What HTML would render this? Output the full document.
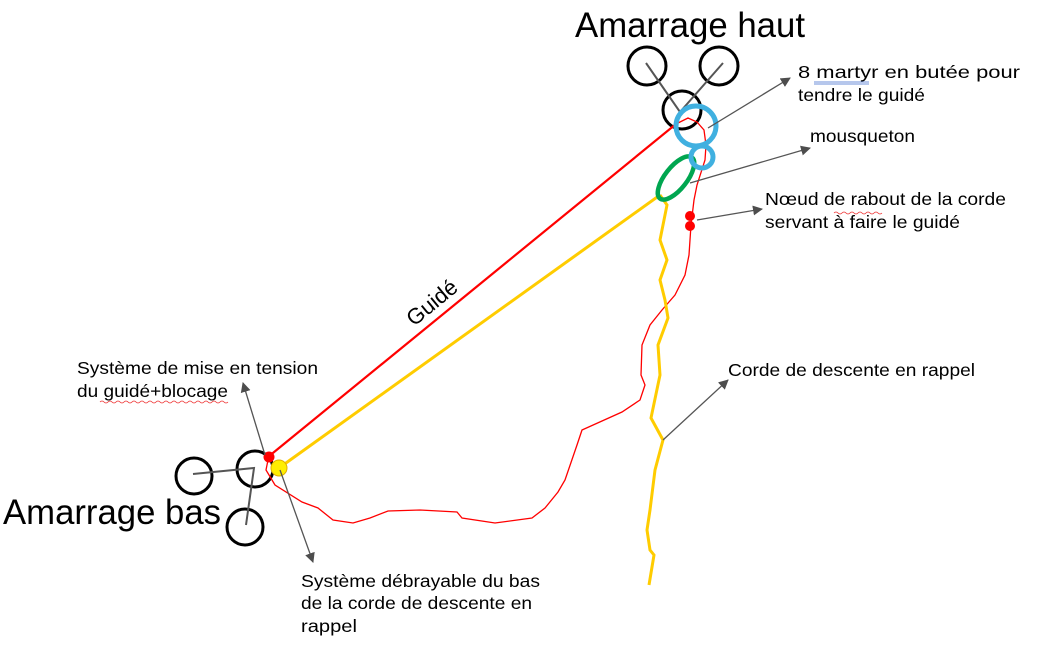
<!DOCTYPE html>
<html><head><meta charset="utf-8"><style>html,body{margin:0;padding:0;background:#fff;}svg{display:block}</style></head>
<body>
<svg width="1047" height="646" viewBox="0 0 1047 646" xmlns="http://www.w3.org/2000/svg" font-family="Liberation Sans, sans-serif">
<defs>
<marker id="a" viewBox="0 0 10 10" refX="9" refY="5" markerWidth="10" markerHeight="10" markerUnits="userSpaceOnUse" orient="auto"><path d="M0,0 L10,5 L0,10 z" fill="#4d4d4d"/></marker>
</defs>
<g fill="none" stroke="#000" stroke-width="3">
<circle cx="647" cy="66" r="19"/><circle cx="719" cy="66" r="19"/><circle cx="682" cy="110" r="19"/>
<circle cx="194" cy="476" r="18"/><circle cx="255" cy="469" r="18"/><circle cx="245" cy="527" r="18"/>
</g>
<g stroke="#555" stroke-width="2" fill="none">
<polyline points="646,63 680,112 723,63"/>
<polyline points="193,474 254,468 246,525"/>
</g>
<path d="M676,124 L688,118 L697,122 L704,130 L706,145 L705,160 L697,185 L694,200 L691,225 L689,255 L685,275 L675,295 L662,310 L650,325 L642,345 L641,375 L645,385 L640,400 L622,412 L582,430 L577,445 L565,480 L558,492 L545,508 L532,518 L495,523 L462,518 L457,512 L420,510 L388,511 L370,518 L353,523 L333,520 L318,508 L302,502 L275,485 L266,470 L268,460" fill="none" stroke="#f00" stroke-width="1.3"/>
<line x1="268" y1="457" x2="676" y2="124" stroke="#f00" stroke-width="2.2"/>
<line x1="279" y1="468" x2="660" y2="195" stroke="#ffcc00" stroke-width="3"/>
<path d="M660,195 L667,205 L664,220 L660,240 L667,260 L660,280 L665,300 L668,318 L658,345 L660,375 L651,418 L663,440 L655,470 L650,510 L647,530 L650,550 L654,555 L649,585" fill="none" stroke="#ffcc00" stroke-width="3"/>
<ellipse cx="676" cy="178" rx="11" ry="26" transform="rotate(38 676 178)" fill="none" stroke="#00a650" stroke-width="4.5"/>
<circle cx="702" cy="157" r="11" fill="none" stroke="#40b0e0" stroke-width="5"/>
<circle cx="696" cy="126" r="20" fill="none" stroke="#40b0e0" stroke-width="5"/>
<circle cx="690" cy="216" r="5" fill="#f00"/><circle cx="690" cy="226" r="5" fill="#f00"/>
<circle cx="269" cy="457" r="5.5" fill="#f00"/>
<circle cx="279" cy="468" r="8" fill="#ffee00" stroke="#e0b000" stroke-width="1"/>
<g stroke="#555" stroke-width="1.3" marker-end="url(#a)">
<line x1="708" y1="128" x2="790" y2="78"/>
<line x1="690" y1="183" x2="810" y2="148"/>
<line x1="697" y1="220" x2="762" y2="209"/>
<line x1="663" y1="440" x2="728" y2="380"/>
<line x1="265" y1="455" x2="243" y2="383"/>
<line x1="280" y1="470" x2="313" y2="562"/>
</g>
<text x="575" y="37" font-size="35" textLength="230" lengthAdjust="spacingAndGlyphs">Amarrage haut</text>
<text x="3" y="524" font-size="35" textLength="218" lengthAdjust="spacingAndGlyphs">Amarrage bas</text>
<text x="0" y="0" font-size="22" transform="translate(414,327) rotate(-39.5)">Guidé</text>
<g font-size="17.5" fill="#000" lengthAdjust="spacingAndGlyphs">
<text x="798" y="78" textLength="222" lengthAdjust="spacingAndGlyphs">8 martyr en butée pour</text>
<text x="798" y="101" textLength="127" lengthAdjust="spacingAndGlyphs">tendre le guidé</text>
<text x="810" y="142" textLength="105" lengthAdjust="spacingAndGlyphs">mousqueton</text>
<text x="765" y="205" textLength="241" lengthAdjust="spacingAndGlyphs">Nœud de rabout de la corde</text>
<text x="765" y="228" textLength="195" lengthAdjust="spacingAndGlyphs">servant à faire le guidé</text>
<text x="728" y="376" textLength="247" lengthAdjust="spacingAndGlyphs">Corde de descente en rappel</text>
<text x="77" y="374" textLength="241" lengthAdjust="spacingAndGlyphs">Système de mise en tension</text>
<text x="77" y="397" textLength="151" lengthAdjust="spacingAndGlyphs">du guidé+blocage</text>
<text x="301" y="587" textLength="239" lengthAdjust="spacingAndGlyphs">Système débrayable du bas</text>
<text x="301" y="609" textLength="231" lengthAdjust="spacingAndGlyphs">de la corde de descente en</text>
<text x="301" y="632" textLength="56" lengthAdjust="spacingAndGlyphs">rappel</text>
</g>
<line x1="814" y1="82" x2="869" y2="82" stroke="#6d8fd8" stroke-width="1"/>
<line x1="814" y1="84" x2="869" y2="84" stroke="#6d8fd8" stroke-width="1"/>
<path d="M834,213 q2,-2 4,0 t4,0 t4,0 t4,0 t4,0 t4,0 t4,0 t4,0 t4,0 t4,0 t4,0 t4,0" fill="none" stroke="#e33" stroke-width="0.8"/>
<path d="M100,402 q2,-2 4,0 t4,0 t4,0 t4,0 t4,0 t4,0 t4,0 t4,0 t4,0 t4,0 t4,0 t4,0 t4,0 t4,0 t4,0 t4,0 t4,0 t4,0 t4,0 t4,0 t4,0 t4,0 t4,0 t4,0 t4,0 t4,0 t4,0 t4,0 t4,0 t4,0 t4,0 t4,0" fill="none" stroke="#e33" stroke-width="0.8"/>
</svg>
</body></html>
